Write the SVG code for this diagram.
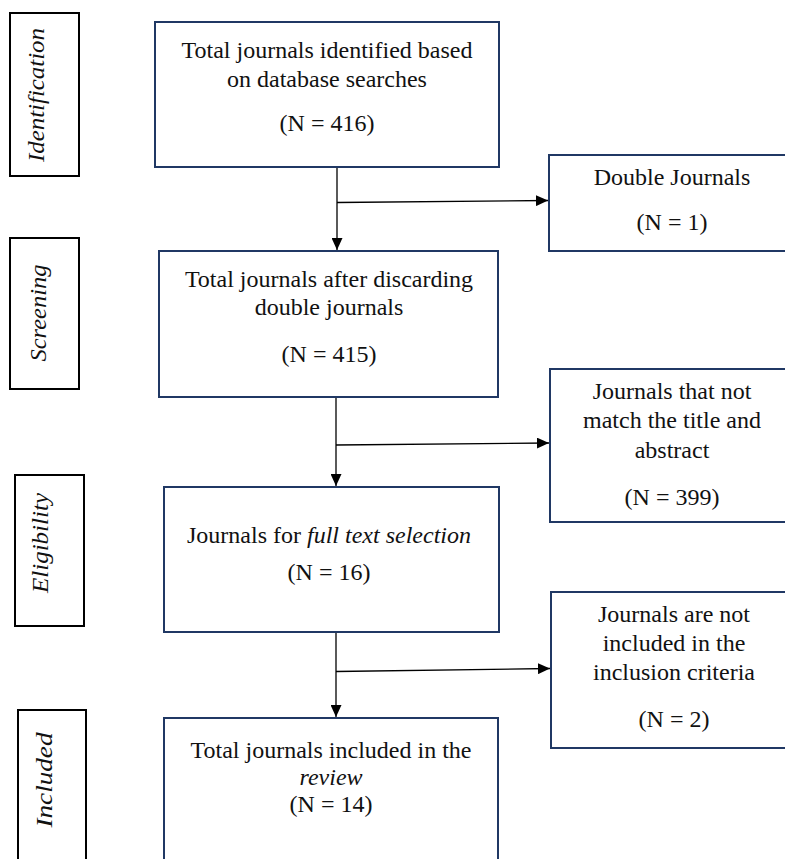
<svg xmlns="http://www.w3.org/2000/svg" width="785" height="859" viewBox="0 0 785 859">
<style>
  .box { fill: #ffffff; stroke: #203864; stroke-width: 2; }
  .lbl { fill: #ffffff; stroke: #000000; stroke-width: 2; }
  .t { font-family: "Liberation Serif", "Times New Roman", serif; font-size: 24px; fill: #111111; text-anchor: middle; }
  .it { font-style: italic; }
  .lt { font-family: "Liberation Serif", "Times New Roman", serif; font-size: 24px; font-style: italic; fill: #111111; text-anchor: middle; }
  .conn { stroke: #000000; stroke-width: 1.3; fill: none; }
</style>
<defs>
  <marker id="arr" markerUnits="userSpaceOnUse" markerWidth="12" markerHeight="11" refX="12" refY="5.5" orient="auto">
    <path d="M0,0 L12,5.5 L0,11 Z" fill="#000000"/>
  </marker>
</defs>
<rect width="785" height="859" fill="#ffffff"/>

<g id="label-identification">
  <rect class="lbl" x="10" y="13" width="69" height="163"/>
  <text class="lt" transform="translate(44,95) rotate(-90)" textLength="134" lengthAdjust="spacingAndGlyphs">Identification</text>
</g>
<g id="label-screening">
  <rect class="lbl" x="10" y="238" width="69" height="151"/>
  <text class="lt" transform="translate(46,313) rotate(-90)" textLength="97" lengthAdjust="spacingAndGlyphs">Screening</text>
</g>
<g id="label-eligibility">
  <rect class="lbl" x="15" y="475" width="69" height="151"/>
  <text class="lt" transform="translate(48,543) rotate(-90)" textLength="100" lengthAdjust="spacingAndGlyphs">Eligibility</text>
</g>
<g id="label-included">
  <rect class="lbl" x="18" y="710" width="68" height="200"/>
  <text class="lt" transform="translate(52,780) rotate(-90)" textLength="95" lengthAdjust="spacingAndGlyphs">Included</text>
</g>

<g id="node-identified">
  <rect class="box" x="155" y="22" width="344" height="145"/>
  <text class="t" x="327" y="58">Total journals identified based</text>
  <text class="t" x="327" y="87">on database searches</text>
  <text class="t" x="327" y="131">(N = 416)</text>
</g>
<g id="node-double">
  <rect class="box" x="549" y="155" width="250" height="96"/>
  <text class="t" x="672" y="185">Double Journals</text>
  <text class="t" x="672" y="230">(N = 1)</text>
</g>
<g id="node-screened">
  <rect class="box" x="159" y="251" width="339" height="146"/>
  <text class="t" x="329" y="287">Total journals after discarding</text>
  <text class="t" x="329" y="315">double journals</text>
  <text class="t" x="329" y="362">(N = 415)</text>
</g>
<g id="node-notmatch">
  <rect class="box" x="550" y="369" width="250" height="153"/>
  <text class="t" x="672" y="399">Journals that not</text>
  <text class="t" x="672" y="428">match the title and</text>
  <text class="t" x="672" y="458">abstract</text>
  <text class="t" x="672" y="505">(N = 399)</text>
</g>
<g id="node-fulltext">
  <rect class="box" x="164" y="487" width="335" height="145"/>
  <text class="t" x="329" y="543">Journals for <tspan class="it">full text selection</tspan></text>
  <text class="t" x="329" y="580">(N = 16)</text>
</g>
<g id="node-notincluded">
  <rect class="box" x="551" y="592" width="250" height="156"/>
  <text class="t" x="674" y="622">Journals are not</text>
  <text class="t" x="674" y="651">included in the</text>
  <text class="t" x="674" y="680">inclusion criteria</text>
  <text class="t" x="674" y="727">(N = 2)</text>
</g>
<g id="node-included">
  <rect class="box" x="164" y="718" width="334" height="200"/>
  <text class="t" x="331" y="758">Total journals included in the</text>
  <text class="t it" x="331" y="785">review</text>
  <text class="t" x="331" y="812">(N = 14)</text>
</g>

<g id="connectors">
  <line class="conn" x1="337" y1="168" x2="337" y2="250" marker-end="url(#arr)"/>
  <line class="conn" x1="337" y1="202.5" x2="548" y2="200.5" marker-end="url(#arr)"/>
  <line class="conn" x1="336" y1="398" x2="336" y2="486" marker-end="url(#arr)"/>
  <line class="conn" x1="336" y1="445" x2="549" y2="443" marker-end="url(#arr)"/>
  <line class="conn" x1="336" y1="633" x2="336" y2="717" marker-end="url(#arr)"/>
  <line class="conn" x1="336" y1="671.5" x2="550" y2="668.5" marker-end="url(#arr)"/>
</g>
</svg>
